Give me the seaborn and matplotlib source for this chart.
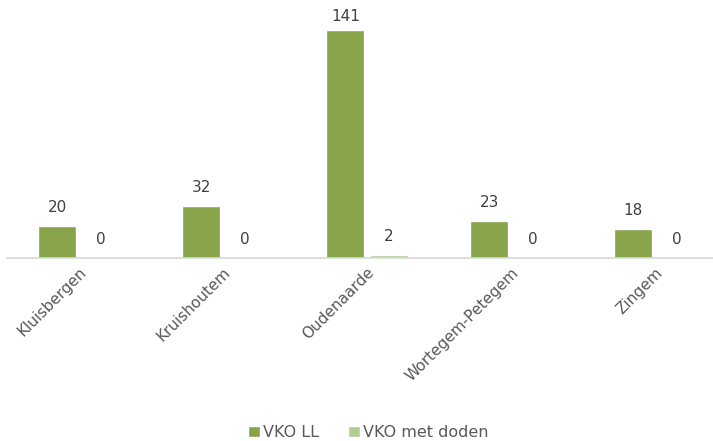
import matplotlib
matplotlib.use("Agg")
import matplotlib.pyplot as plt
import seaborn as sns
import pandas as pd

gemeenten = ["Kluisbergen", "Kruishoutem", "Oudenaarde", "Wortegem-Petegem", "Zingem"]
vko_ll = [20, 32, 141, 23, 18]
vko_doden = [0, 0, 2, 0, 0]
reeksen = ["VKO LL", "VKO met doden"]
kleuren = ["#87A44B", "#B3CD91"]

df = pd.DataFrame({
    "Gemeente": gemeenten * 2,
    "Aantal": vko_ll + vko_doden,
    "Reeks": [reeksen[0]] * 5 + [reeksen[1]] * 5,
})

sns.set_style("white")
plt.rcParams["font.family"] = ["DejaVu Sans"]

fig = plt.figure(figsize=(7.13, 4.41), dpi=100)
ax = fig.add_axes([7 / 713, 1 - 258 / 441, 720 / 713, 242.5 / 441])
sns.barplot(data=df, x="Gemeente", y="Aantal", hue="Reeks", palette=kleuren,
            width=0.6, gap=0.12, saturation=1, ax=ax, legend=True)

ax.set_ylim(0, 150)
ax.set_xlim(-0.5, 4.5)
for c in ax.containers:
    ax.bar_label(c, padding=8, fontsize=11, color="#404040")
# Excel schuift het label van de hoogste balk iets omlaag
ax.texts[2].xyann = (0, 4)

ax.set_xlabel("")
ax.set_ylabel("")
ax.set_yticks([])
for s in ["left", "right", "top"]:
    ax.spines[s].set_visible(False)
ax.spines["bottom"].set_color("#D9D9D9")
ax.spines["bottom"].set_linewidth(1.2)
ax.tick_params(axis="x", length=0, pad=5)
plt.setp(ax.get_xticklabels(), rotation=45, ha="right", rotation_mode="anchor",
         fontsize=11, color="#595959")

h, l = ax.get_legend_handles_labels()
ax.legend(h, l, loc="lower center", bbox_to_anchor=(0.5 + 1 / 720, -0.81), ncol=2,
          frameon=False, fontsize=11.5, handlelength=0.75, handleheight=0.75,
          handletextpad=0.2, columnspacing=1.8, labelcolor="#595959")

fig.savefig("out.png", dpi=100)
